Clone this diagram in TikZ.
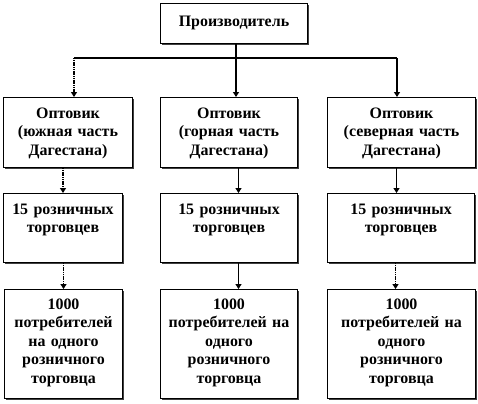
\documentclass[tikz,border=0pt]{standalone}
\usepackage{fontspec}
\setmainfont{Liberation Serif}
\usetikzlibrary{arrows.meta,shadows}
\tikzset{
  box/.style={draw,line width=1bp,fill=white,anchor=north west,align=center,
    inner xsep=2bp,inner ysep=3bp,
    drop shadow={shadow xshift=1.3bp,shadow yshift=-1.3bp,fill=black!75,opacity=1}},
  arr/.style={-{Triangle[length=5bp,width=6bp]},line width=1.5bp},
  dotarr/.style={arr,dash pattern=on 1.2bp off 0.6bp}
}
\begin{document}
\begin{tikzpicture}[x=1bp,y=-1bp,font=\bfseries\fontsize{16}{18.5}\selectfont]
\useasboundingbox (0,0) rectangle (478,403);
\node[box,text width=143bp,text height=20bp,text depth=14bp] (prod) at (160,3) {Производитель};
\node[box,text width=125bp,text height=18bp,text depth=46bp] (wl) at (3,97) {Оптовик\\(южная часть\\Дагестана)};
\node[box,text width=133bp,text height=18bp,text depth=46bp] (wc) at (160,97) {Оптовик\\(горная часть\\Дагестана)};
\node[box,text width=144bp,text height=18bp,text depth=46bp] (wr) at (327,97) {Оптовик\\(северная часть\\Дагестана)};
\node[box,text width=115bp,text height=18bp,text depth=45bp] (rl) at (3,193) {15 розничных\\торговцев};
\node[box,text width=133bp,text height=18bp,text depth=45bp] (rc) at (160,193) {15 розничных\\торговцев};
\node[box,text width=143bp,text height=18bp,text depth=45bp] (rr) at (327,193) {15 розничных\\торговцев};
\node[box,text width=114bp,text height=17bp,text depth=86bp] (cl) at (4,289) {1000\\потребителей\\на одного\\розничного\\торговца};
\node[box,text width=133bp,text height=17bp,text depth=86bp] (cc) at (160,289) {1000\\потребителей на\\одного\\розничного\\торговца};
\node[box,text width=144bp,text height=17bp,text depth=86bp] (cr) at (327,289) {1000\\потребителей на\\одного\\розничного\\торговца};
\coordinate (jl) at (74,58);
\coordinate (jc) at (236,58);
\coordinate (jr) at (397,58);
\draw[line width=1.5bp] (jl) -- (jr);
\draw[line width=1.5bp] (prod.south -| jc) -- (jc);
\draw[arr] (jc) -- (jc |- wc.north);
\draw[dotarr] (jl) -- (jl |- wl.north);
\draw[arr] (jr) -- (jr |- wr.north);
\draw[dotarr] (wl.south -| rl.north) -- (rl.north);
\draw[arr] ([xshift=9.5bp]wc.south) -- ([xshift=9.5bp]rc.north);
\draw[arr] ([xshift=-4.5bp]rr.north |- wr.south) -- ([xshift=-4.5bp]rr.north);
\draw[dotarr] (rl.south -| cl.north) -- (cl.north);
\draw[arr] ([xshift=9.5bp]rc.south) -- ([xshift=9.5bp]cc.north);
\draw[dotarr] ([xshift=-5.5bp]rr.south) -- ([xshift=-5.5bp]rr.south |- cr.north);
\end{tikzpicture}
\end{document}
